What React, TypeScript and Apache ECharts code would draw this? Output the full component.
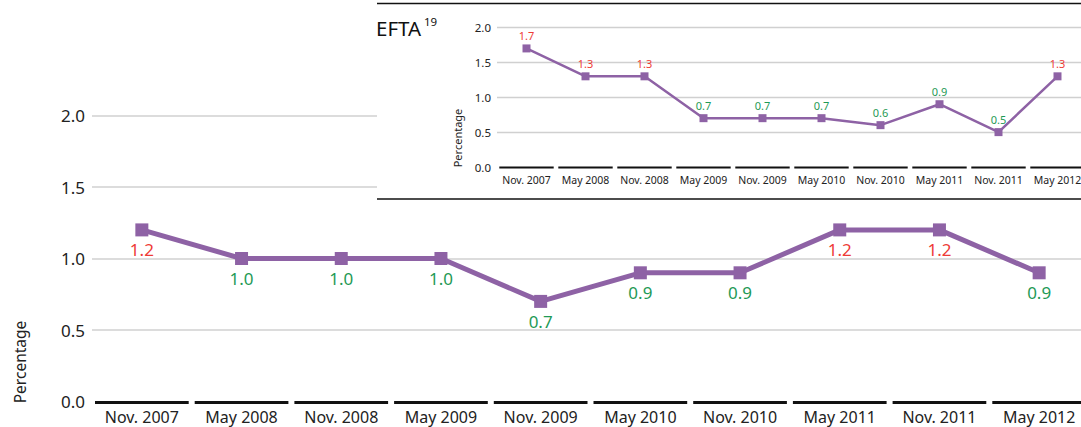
import React, { useEffect, useRef } from "react";
import * as echarts from "echarts";

const categories = [
  "Nov. 2007", "May 2008", "Nov. 2008", "May 2009", "Nov. 2009",
  "May 2010", "Nov. 2010", "May 2011", "Nov. 2011", "May 2012",
];
const mainValues = [1.2, 1.0, 1.0, 1.0, 0.7, 0.9, 0.9, 1.2, 1.2, 0.9];
const eftaValues = [1.7, 1.3, 1.3, 0.7, 0.7, 0.7, 0.6, 0.9, 0.5, 1.3];
const yMin = 0;
const yMax = 2.0;
const yStep = 0.5;
const highThreshold = 1.0;

const PURPLE = "#8e62a5";
const RED = "#ee3b36";
const GREEN = "#1f9a56";
const TEXT = "#222222";
const GRIDC = "#d0d0d0";
const FONT = "Noto Sans";
const CHART_W = 1100;

function labelled(values: number[]) {
  return values.map((v) => ({
    value: v,
    label: { color: v > highThreshold ? RED : GREEN },
  }));
}

function segmentSeries(xIdx: number, thick: number, pad: number, z: number) {
  return {
    type: "custom",
    xAxisIndex: xIdx,
    yAxisIndex: xIdx,
    z,
    clip: false,
    silent: true,
    data: categories.map((c) => [c, 0]),
    renderItem: (params: any, api: any) => {
      const p = api.coord([api.value(0), 0]);
      const w = api.size([1, 0])[0];
      return {
        type: "rect",
        shape: { x: p[0] - w / 2 + pad, y: p[1] - 0.5, width: w - 2 * pad, height: thick },
        style: { fill: "#111111" },
      };
    },
  };
}

export default function App() {
  const ref = useRef<HTMLDivElement>(null);
  useEffect(() => {
    if (!ref.current) return;
    const chart = echarts.init(ref.current, undefined, { renderer: "svg" });
    const option: any = {
      animation: false,
      textStyle: { fontFamily: FONT },
      grid: [
        { left: 92, right: CHART_W - 1089, top: 115.5, bottom: 25.5 },
        { left: 497, right: CHART_W - 1087, top: 27.5, bottom: 260 },
      ],
      xAxis: [
        {
          type: "category",
          gridIndex: 0,
          data: categories,
          z: 0,
          axisLine: { show: false },
          axisTick: { show: false },
          axisLabel: { interval: 0, fontSize: 16, color: TEXT, margin: 7, lineHeight: 16, fontFamily: FONT },
        },
        {
          type: "category",
          gridIndex: 1,
          data: categories,
          z: 3,
          axisLine: { show: false },
          axisTick: { show: false },
          axisLabel: { interval: 0, fontSize: 10.5, color: TEXT, margin: 7, fontFamily: FONT },
        },
      ],
      yAxis: [
        {
          type: "value",
          gridIndex: 0,
          min: yMin,
          max: yMax,
          interval: yStep,
          z: 0,
          axisLine: { show: false },
          axisTick: { show: false },
          axisLabel: { fontSize: 17, color: TEXT, margin: 7, formatter: (v: number) => v.toFixed(1), fontFamily: FONT },
          splitLine: { lineStyle: { color: ["transparent", GRIDC, GRIDC, GRIDC, GRIDC], width: 1.5 } },
        },
        {
          type: "value",
          gridIndex: 1,
          min: yMin,
          max: yMax,
          interval: yStep,
          z: 3,
          axisLine: { show: false },
          axisTick: { show: false },
          axisLabel: { fontSize: 11.5, color: TEXT, margin: 6, formatter: (v: number) => v.toFixed(1), fontFamily: FONT },
          splitLine: { lineStyle: { color: ["transparent", GRIDC, GRIDC, GRIDC, GRIDC], width: 1.3 } },
        },
      ],
      graphic: [
        { type: "rect", z: 1, shape: { x: 377, y: 3, width: 740, height: 196 }, style: { fill: "#ffffff" } },
        { type: "line", z: 10, shape: { x1: 377, y1: 3.5, x2: 1110, y2: 3.5 }, style: { stroke: "#111", lineWidth: 1.5 } },
        { type: "line", z: 10, shape: { x1: 377, y1: 199, x2: 1110, y2: 199 }, style: { stroke: "#111", lineWidth: 1.5 } },
        {
          type: "text", z: 10, x: 376, y: 28,
          style: { text: "EFTA", fontSize: 20.5, fill: "#111", fontFamily: FONT, textVerticalAlign: "middle" },
        },
        {
          type: "text", z: 10, x: 424, y: 21,
          style: { text: "19", fontSize: 11.5, fill: "#111", fontFamily: FONT, textVerticalAlign: "middle" },
        },
        {
          type: "text", z: 10, x: 20, y: 362, rotation: Math.PI / 2,
          style: { text: "Percentage", fontSize: 15.5, fill: TEXT, fontFamily: FONT, textAlign: "center", textVerticalAlign: "middle" },
        },
        {
          type: "text", z: 10, x: 457, y: 138, rotation: Math.PI / 2,
          style: { text: "Percentage", fontSize: 11, fill: TEXT, fontFamily: FONT, textAlign: "center", textVerticalAlign: "middle" },
        },
      ],
      series: [
        segmentSeries(0, 3, 3, 2),
        {
          type: "line",
          xAxisIndex: 0,
          yAxisIndex: 0,
          z: 2,
          data: labelled(mainValues),
          symbol: "rect",
          symbolSize: 13,
          lineStyle: { color: PURPLE, width: 5 },
          itemStyle: { color: PURPLE },
          label: { show: true, position: "bottom", distance: 5, fontSize: 17, fontFamily: FONT, formatter: (p: any) => Number(p.value).toFixed(1) },
        },
        segmentSeries(1, 2, 2.3, 4),
        {
          type: "line",
          xAxisIndex: 1,
          yAxisIndex: 1,
          z: 4,
          data: labelled(eftaValues),
          symbol: "rect",
          symbolSize: 8,
          lineStyle: { color: PURPLE, width: 2.5 },
          itemStyle: { color: PURPLE },
          label: { show: true, position: "top", distance: 3, fontSize: 11, fontFamily: FONT, formatter: (p: any) => Number(p.value).toFixed(1) },
        },
      ],
    };
    chart.setOption(option);
    return () => chart.dispose();
  }, []);
  return (
    <div style={{ position: "fixed", left: 0, top: 0, width: 1081, height: 427, overflow: "hidden", background: "#fff" }}>
      <div ref={ref} style={{ width: CHART_W, height: 427 }} />
    </div>
  );
}
